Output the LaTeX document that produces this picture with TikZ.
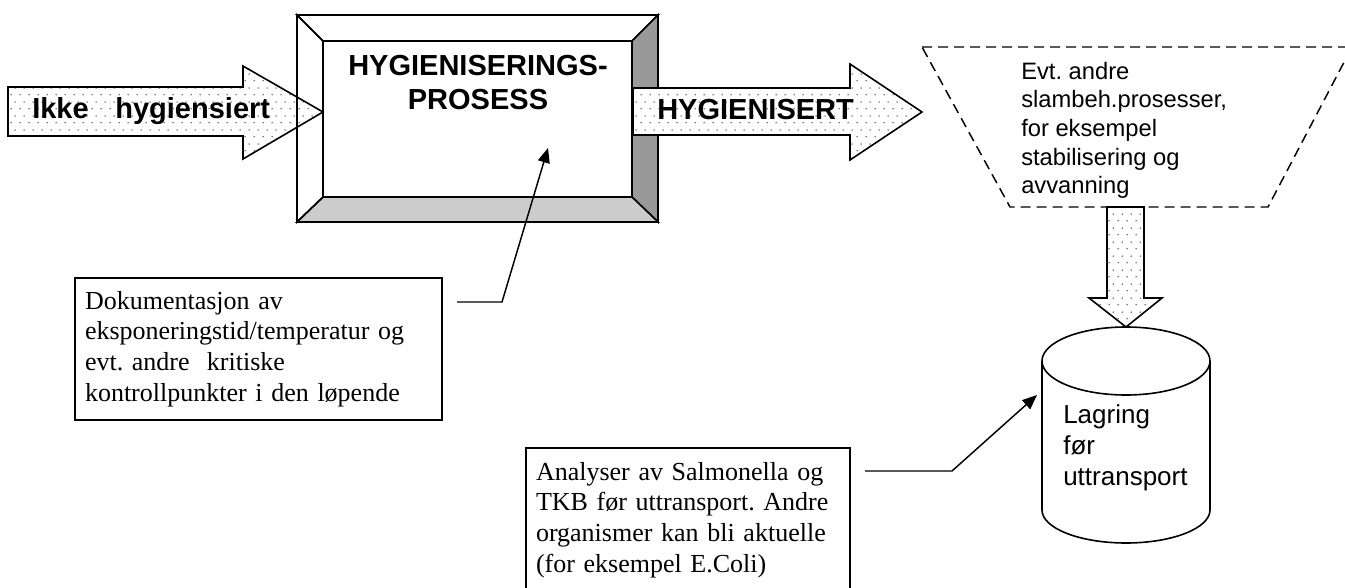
\documentclass[tikz,border=0pt]{standalone}
\usepackage{fontspec}
\setmainfont{Liberation Serif}
\setsansfont{Liberation Sans}
\usetikzlibrary{calc,arrows.meta,patterns.meta}
\frenchspacing

\tikzdeclarepattern{
  name=sparsedots,
  type=uncolored,
  bottom left={(0pt,0pt)},
  top right={(6.75pt,10.5pt)},
  tile size={(6.75pt,10.5pt)},
  code={
    \fill (1.7pt,2.6pt) circle (0.6pt);
    \fill (5.1pt,7.9pt) circle (0.6pt);
  }
}

\tikzset{
  bline/.style={line width=1.2pt, black, line join=miter},
  dotarrow/.style={bline, preaction={fill=white}, pattern=sparsedots, pattern color=black!70},
  faceplain/.style={bline, fill=white},
  facelight/.style={bline, fill=black!20},
  facedark/.style={bline, fill=black!40},
  heading/.style={font=\sffamily\bfseries\fontsize{21.75pt}{25.5pt}\selectfont, inner sep=0pt},
  trapnote/.style={font=\sffamily\fontsize{17.8pt}{21.4pt}\selectfont, align=left, inner sep=0pt},
  storenote/.style={font=\sffamily\fontsize{19.5pt}{23.25pt}\selectfont, align=left, inner sep=0pt},
  docbox/.style={draw, bline, fill=white, font=\fontsize{19.5pt}{22.9pt}\selectfont,
                 align=left, inner xsep=7.5pt, inner ysep=0pt, outer sep=0pt},
  callout/.style={line width=1.1pt, -{Triangle[length=11pt,width=9pt]}},
  dashedge/.style={line width=1.1pt, dash pattern=on 7.5pt off 4.5pt},
}

\begin{document}
\begin{tikzpicture}[x=0.75pt, y=-0.75pt]
  \clip (0,0) rectangle (1345,588);

  % process box with bevel
  \node[faceplain, minimum width=231.75pt, minimum height=117pt, inner sep=0pt, outer sep=0pt] (proc) at (477.5,119) {};
  \coordinate (onw) at ($(proc.north west)+(-26,-26)$);
  \coordinate (one) at ($(proc.north east)+(26,-26)$);
  \coordinate (ose) at ($(proc.south east)+(26,25)$);
  \coordinate (osw) at ($(proc.south west)+(-26,25)$);
  \draw[faceplain] (onw) -- (one) -- (proc.north east) -- (proc.north west) -- cycle;
  \draw[facedark]  (one) -- (ose) -- (proc.south east) -- (proc.north east) -- cycle;
  \draw[facelight] (osw) -- (ose) -- (proc.south east) -- (proc.south west) -- cycle;
  \draw[bline] (onw) -- (osw) -- (proc.south west) -- (proc.north west) -- cycle;
  \node[heading, align=center, anchor=north] (title) at (478,55) {HYGIENISERINGS-\\PROSESS};

  % inflow arrow
  \draw[dotarrow] (8,87) -- (243,87) -- (243,66) -- (323,112) -- (243,159) -- (243,136) -- (8,136) -- cycle;
  \draw[bline] (onw) -- (osw);
  \node[heading, anchor=base west] (intext) at (32,119) {Ikke\hspace{20pt}hygiensiert};

  % outflow arrow
  \draw[dotarrow] (633,88) -- (850,88) -- (850,64) -- (922,112) -- (850,160) -- (850,135) -- (633,135) -- cycle;
  \node[heading, anchor=base west] (outtext) at (657,120) {HYGIENISERT};

  % further treatment (dashed trapezoid)
  \draw[dashedge] (922,47) -- (1352,47) -- (1268,207) -- (1010,207) -- cycle;
  \node[trapnote, anchor=north west] (trap) at (1021,62)
    {Evt. andre\\slambeh.prosesser,\\for eksempel\\stabilisering og\\avvanning};

  % down arrow into storage
  \draw[dotarrow] (1107,207) -- (1144,207) -- (1144,298) -- (1162,298) -- (1126,327) -- (1089,298) -- (1107,298) -- cycle;

  % storage cylinder
  \draw[bline, fill=white] (1042,361) -- (1042,510) arc[start angle=180, end angle=0, x radius=84, y radius=33] -- (1210,361);
  \draw[bline] (1126,361) ellipse [x radius=84, y radius=34];
  \node[storenote, anchor=north west] (store) at (1063,404) {Lagring\\før\\uttransport};

  % documentation notes
  \node[docbox, anchor=north west, minimum width=275.25pt, minimum height=106.5pt, text width=260.25pt] (doc1) at (75,278)
    {Dokumentasjon av\\eksponeringstid/temperatur og\\evt. andre\ \ kritiske\\kontrollpunkter i den løpende};
  \node[docbox, anchor=north west, minimum width=243pt, minimum height=108pt, text width=228pt] (doc2) at (526,448)
    {Analyser av Salmonella og\\TKB før uttransport. Andre\\organismer kan bli aktuelle\\(for eksempel E.Coli)};

  \coordinate (procpt) at (548,148);
  \coordinate (storept) at (1037,395);
  \draw[callout] ($(doc1.north east)+(15,24)$) -- ++(45,0) -- (procpt);
  \draw[callout] ($(doc2.north east)+(15,23)$) -- ++(87,0) -- (storept);
\end{tikzpicture}
\end{document}
